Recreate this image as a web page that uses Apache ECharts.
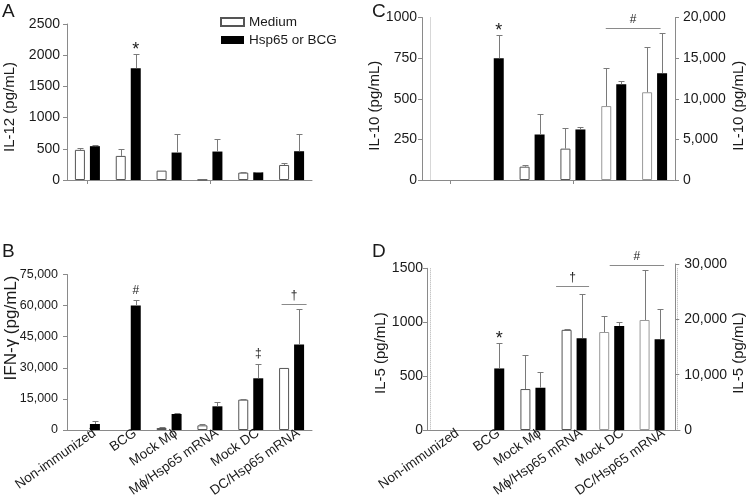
<!DOCTYPE html>
<html><head><meta charset="utf-8">
<script src="https://cdn.jsdelivr.net/npm/echarts@6/dist/echarts.min.js"></script>
<style>html,body{margin:0;padding:0;background:#fff}#c{width:747px;height:500px}</style>
</head><body><div id="c"></div>
<script>
// ---------------- data ----------------
const categories = ['Non-immunized', 'BCG', 'Mock M\u03d5', 'M\u03d5/Hsp65 mRNA', 'Mock DC', 'DC/Hsp65 mRNA'];
const seriesNames = ['Medium', 'Hsp65 or BCG'];

// Panel A: IL-12 (pg/mL)
const il12Medium   = [483, 386, 150, 4, 118, 241];
const il12MediumSD = [32, 113, 0, 0, 11, 38];
const il12Hsp      = [542, 1792, 440, 456, 123, 461];
const il12HspSD    = [21, 225, 295, 204, 6, 279];
const il12Ticks    = [0, 500, 1000, 1500, 2000, 2500];

// Panel B: IFN-gamma (pg/mL)
const ifnMedium   = [0, 0, 965, 2250, 14640, 29930];
const ifnMediumSD = [0, 0, 325, 810, 160, 0];
const ifnHsp      = [2900, 60000, 7720, 11420, 24940, 41190];
const ifnHspSD    = [1280, 2600, 320, 2080, 6920, 17380];
const ifnTicks    = [0, 15000, 30000, 45000, 60000, 75000];

// Panel C: IL-10 (pg/mL) - first four groups on left axis, last two on right axis
const il10Medium   = [0, 0, 82, 193, 9100, 10800];
const il10MediumSD = [0, 0, 11, 130, 4650, 5570];
const il10Hsp      = [0, 749, 280, 311, 11780, 13150];
const il10HspSD    = [0, 142, 125, 16, 370, 4900];
const il10LeftTicks  = [0, 250, 500, 750, 1000];
const il10RightTicks = [0, 5000, 10000, 15000, 20000];

// Panel D: IL-5 (pg/mL)
const il5Medium   = [0, 0, 380, 929, 17710, 19880];
const il5MediumSD = [0, 0, 314, 6, 2830, 9100];
const il5Hsp      = [0, 571, 392, 852, 18800, 16390];
const il5HspSD    = [0, 237, 142, 413, 660, 5420];
const il5LeftTicks  = [0, 500, 1000, 1500];
const il5RightTicks = [0, 10000, 20000, 30000];

const leftGroups  = [0, 1, 2, 3];
const rightGroups = [4, 5];
const allGroups   = [0, 1, 2, 3, 4, 5];

// significance marks: [group, series (0 = Medium, 1 = Hsp65 or BCG), symbol]
const marksA = [[1, 1, '*']];
const marksB = [[1, 1, '#'], [4, 1, '\u2021']];
const marksC = [[1, 1, '*']];
const marksD = [[1, 1, '*']];
// brackets: [fromGroup, toGroup, value, symbol]
const bracketsB      = [[5, 5, 60700, '\u2020']];
const bracketsCRight = [[4, 5, 18700, '#']];
const bracketsDLeft  = [[3, 3, 1340, '\u2020']];
const bracketsDRight = [[4, 5, 29800, '#']];

// ---------------- style / layout ----------------
const FONT = "'Liberation Sans', Arial, Helvetica, sans-serif";
const TXT = '#1a1a1a';
const AX = '#8a8a8a';
const ERR = '#7a7a7a';
const BAR_W = 10, BAR_OFF = 7.5;
const bracketPads = { B: [[10, 15]], C: [[8, 6]], DL: [[18, 15]], DR: [[2, 12]] };

const comma = v => String(v).replace(/\B(?=(\d{3})+(?!\d))/g, ',');
const plain = v => String(v);
const pick = (arr, groups) => arr.map((v, i) => (groups.includes(i) && v !== 0) ? v : '-');

function barPair(xi, yi, med, hsp, groups, borderCol) {
  return [
    { name: seriesNames[0], type: 'bar', xAxisIndex: xi, yAxisIndex: yi, barWidth: BAR_W, barGap: '50%',
      itemStyle: { color: '#ffffff', borderColor: borderCol, borderWidth: 1 }, data: pick(med, groups) },
    { name: seriesNames[1], type: 'bar', xAxisIndex: xi, yAxisIndex: yi, barWidth: BAR_W, barGap: '50%',
      itemStyle: { color: '#000000', borderColor: '#000000', borderWidth: 0 }, data: pick(hsp, groups) }
  ];
}

function errSeries(xi, yi, means, sds, side, groups) {
  const data = [];
  groups.forEach(i => { if (sds[i] > 0) data.push([i, means[i], means[i] + sds[i]]); });
  return {
    type: 'custom', xAxisIndex: xi, yAxisIndex: yi, z: 5, silent: true, clip: false,
    encode: { x: 0, y: [1, 2] },
    renderItem: (params, api) => {
      const b = api.coord([api.value(0), api.value(1)]);
      const t = api.coord([api.value(0), api.value(2)]);
      const x = Math.round(b[0] + side * BAR_OFF) + 0.5;
      const y = Math.round(t[1]) + 0.5;
      return { type: 'group', children: [
        { type: 'line', shape: { x1: x, y1: b[1], x2: x, y2: y }, style: { stroke: ERR, lineWidth: 1 } },
        { type: 'line', shape: { x1: x - 3, y1: y, x2: x + 3, y2: y }, style: { stroke: ERR, lineWidth: 1 } }
      ] };
    },
    data
  };
}

function markSeries(xi, yi, marks, med, medSD, hsp, hspSD) {
  const data = marks.map(m => {
    const v = m[1] === 0 ? med[m[0]] + medSD[m[0]] : hsp[m[0]] + hspSD[m[0]];
    return [m[0], v, m[1]];
  });
  return {
    type: 'custom', xAxisIndex: xi, yAxisIndex: yi, z: 6, silent: true, clip: false,
    encode: { x: 0, y: 1 },
    renderItem: (params, api) => {
      const p = api.coord([api.value(0), api.value(1)]);
      const side = api.value(2) === 0 ? -1 : 1;
      const sym = marks[params.dataIndex][2];
      const isStar = sym === '*';
      return { type: 'text', style: {
        x: p[0] + side * BAR_OFF, y: p[1] - (isStar ? 4 : 10), text: sym,
        fontSize: isStar ? 18 : 12, fontFamily: FONT, fill: TXT, align: 'center', verticalAlign: 'middle' } };
    },
    data
  };
}

function bracketSeries(xi, yi, brackets, pads) {
  return {
    type: 'custom', xAxisIndex: xi, yAxisIndex: yi, z: 6, silent: true, clip: false,
    encode: { x: 0, y: 2 },
    renderItem: (params, api) => {
      const i = params.dataIndex;
      const a = api.coord([api.value(0), api.value(2)]);
      const b = api.coord([api.value(1), api.value(2)]);
      const x1 = a[0] - pads[i][0], x2 = b[0] + pads[i][1];
      const y = Math.round(a[1]) + 0.5;
      return { type: 'group', children: [
        { type: 'line', shape: { x1, y1: y, x2, y2: y }, style: { stroke: AX, lineWidth: 1 } },
        { type: 'text', style: { x: (x1 + x2) / 2, y: y - 9, text: brackets[i][3], fontSize: 12,
          fontFamily: FONT, fill: TXT, align: 'center', verticalAlign: 'middle' } }
      ] };
    },
    data: brackets.map(b => [b[0], b[1], b[2]])
  };
}

const tickRange = t => ({ min: t[0], max: t[t.length - 1], interval: t[1] - t[0] });
const nameStyle = (size, pad) => ({ fontSize: size, color: TXT, fontFamily: FONT, padding: pad });

function yAx(grid, ticks, name, opts) {
  return Object.assign({
    gridIndex: grid, type: 'value', ...tickRange(ticks), name, nameLocation: 'middle',
    nameTextStyle: nameStyle(15, [0, 0, 0, 0]),
    axisLine: { show: true, lineStyle: { color: AX } },
    axisTick: { show: true, length: 4, lineStyle: { color: AX } },
    splitLine: { show: false },
    axisLabel: { fontSize: 14, color: TXT, fontFamily: FONT, margin: 7, formatter: plain }
  }, opts);
}

function xAx(grid, opts) {
  return Object.assign({
    gridIndex: grid, type: 'category', data: categories,
    axisLine: { show: true, onZero: false, lineStyle: { color: AX } },
    axisTick: { show: true, alignWithLabel: true, length: 4, lineStyle: { color: AX } },
    axisLabel: { show: false }
  }, opts);
}
// label-only category axis (labels sit slightly right of the ticks, as in the figure)
function labelX(grid) {
  return { gridIndex: grid, type: 'category', data: categories,
    axisLine: { show: false, onZero: false }, axisTick: { show: false },
    axisLabel: { show: true, rotate: 35, interval: 0, fontSize: 13.5, color: TXT, fontFamily: FONT, margin: 8 } };
}
const divider = { show: true, interval: (i) => i === 4, lineStyle: { color: '#b0b0b0', type: 'dotted', width: 1 } };
function decoX(grid) {
  return { gridIndex: grid, type: 'category', data: [''], axisLine: { show: true, onZero: false, lineStyle: { color: AX } },
    axisTick: { show: false }, axisLabel: { show: false } };
}
const hiddenY = g => ({ gridIndex: g, type: 'value', show: false });

const option = {
  animation: false,
  backgroundColor: '#ffffff',
  textStyle: { fontFamily: FONT },
  legend: {
    orient: 'vertical', left: 215, top: 10, itemWidth: 23, itemHeight: 8, itemGap: 4, icon: 'rect',
    data: seriesNames, textStyle: { fontSize: 13.5, color: TXT, fontFamily: FONT }
  },
  graphic: [
    { type: 'text', left: 2, top: 2, style: { text: 'A', fontSize: 19, fontFamily: FONT, fill: TXT } },
    { type: 'text', left: 2, top: 242, style: { text: 'B', fontSize: 19, fontFamily: FONT, fill: TXT } },
    { type: 'text', left: 372, top: 2, style: { text: 'C', fontSize: 19, fontFamily: FONT, fill: TXT } },
    { type: 'text', left: 372, top: 242, style: { text: 'D', fontSize: 19, fontFamily: FONT, fill: TXT } },
    // panel B axis title sits above the axis middle in the figure
    { type: 'text', x: 11, y: 328, rotation: Math.PI / 2,
      style: { text: 'IFN-\u03b3 (pg/mL)', fontSize: 17, fontFamily: FONT, fill: TXT, align: 'center', verticalAlign: 'middle' } }
  ],
  grid: [
    { left: 67, top: 24, width: 245, height: 156 },        // 0 A
    { left: 67, top: 274.5, width: 245, height: 155.5 },   // 1 B
    { left: 430, top: 17.5, width: 245, height: 162.5 },   // 2 C left
    { left: 430, top: 17.5, width: 245, height: 162.5 },   // 3 C right
    { left: 422, top: 17.5, width: 252.5, height: 162.5 }, // 4 C axis line
    { left: 430, top: 268.3, width: 247, height: 161.7 },  // 5 D left
    { left: 430, top: 264, width: 247, height: 166 },      // 6 D right
    { left: 427, top: 268.3, width: 253, height: 161.7 },  // 7 D axis line
    { left: 74, top: 274.5, width: 245, height: 155.5 },   // 8 B labels
    { left: 437, top: 268.3, width: 247, height: 161.7 }   // 9 D labels
  ],
  xAxis: [
    xAx(0),
    xAx(1),
    xAx(2, { axisLine: { show: false }, splitLine: divider }),
    xAx(3, { show: false }),
    decoX(4),
    xAx(5, { axisLine: { show: false }, splitLine: divider }),
    xAx(6, { show: false }),
    decoX(7),
    labelX(8),
    labelX(9)
  ],
  yAxis: [
    yAx(0, il12Ticks, 'IL-12 (pg/mL)', { nameGap: 50, nameTextStyle: nameStyle(15, [0, 10, 0, 0]) }),
    yAx(1, ifnTicks, '', {
      axisLabel: { fontSize: 12.5, color: TXT, fontFamily: FONT, margin: 9, formatter: comma } }),
    yAx(2, il10LeftTicks, 'IL-10 (pg/mL)', { offset: 8, nameGap: 34, nameTextStyle: nameStyle(15, [0, 14, 0, 0]),
      axisLabel: { fontSize: 14, color: TXT, fontFamily: FONT, margin: 5, formatter: plain } }),
    yAx(3, il10RightTicks, 'IL-10 (pg/mL)', { position: 'right', nameGap: 56, nameTextStyle: nameStyle(15, [0, 14, 0, 0]),
      axisLabel: { fontSize: 14, color: TXT, fontFamily: FONT, margin: 8, formatter: comma } }),
    hiddenY(4),
    yAx(5, il5LeftTicks, 'IL-5 (pg/mL)', { offset: 3, nameGap: 38, nameTextStyle: nameStyle(15, [0, 8, 0, 0]),
      axisLabel: { fontSize: 14, color: TXT, fontFamily: FONT, margin: 4, formatter: plain } }),
    yAx(6, il5RightTicks, 'IL-5 (pg/mL)', { position: 'right', offset: 3, nameGap: 52, nameTextStyle: nameStyle(15, [0, 12, 0, 0]),
      axisLabel: { fontSize: 14, color: TXT, fontFamily: FONT, margin: 9, formatter: comma } }),
    hiddenY(7),
    hiddenY(8),
    hiddenY(9)
  ],
  series: [
    // A
    ...barPair(0, 0, il12Medium, il12Hsp, allGroups, '#555'),
    errSeries(0, 0, il12Medium, il12MediumSD, -1, allGroups),
    errSeries(0, 0, il12Hsp, il12HspSD, 1, allGroups),
    markSeries(0, 0, marksA, il12Medium, il12MediumSD, il12Hsp, il12HspSD),
    // B
    ...barPair(1, 1, ifnMedium, ifnHsp, allGroups, '#555'),
    errSeries(1, 1, ifnMedium, ifnMediumSD, -1, allGroups),
    errSeries(1, 1, ifnHsp, ifnHspSD, 1, allGroups),
    markSeries(1, 1, marksB, ifnMedium, ifnMediumSD, ifnHsp, ifnHspSD),
    bracketSeries(1, 1, bracketsB, bracketPads.B),
    // C left
    ...barPair(2, 2, il10Medium, il10Hsp, leftGroups, '#555'),
    errSeries(2, 2, il10Medium, il10MediumSD, -1, leftGroups),
    errSeries(2, 2, il10Hsp, il10HspSD, 1, leftGroups),
    markSeries(2, 2, marksC, il10Medium, il10MediumSD, il10Hsp, il10HspSD),
    // C right
    ...barPair(3, 3, il10Medium, il10Hsp, rightGroups, '#999'),
    errSeries(3, 3, il10Medium, il10MediumSD, -1, rightGroups),
    errSeries(3, 3, il10Hsp, il10HspSD, 1, rightGroups),
    bracketSeries(3, 3, bracketsCRight, bracketPads.C),
    // D left
    ...barPair(5, 5, il5Medium, il5Hsp, leftGroups, '#555'),
    errSeries(5, 5, il5Medium, il5MediumSD, -1, leftGroups),
    errSeries(5, 5, il5Hsp, il5HspSD, 1, leftGroups),
    markSeries(5, 5, marksD, il5Medium, il5MediumSD, il5Hsp, il5HspSD),
    bracketSeries(5, 5, bracketsDLeft, bracketPads.DL),
    // D right
    ...barPair(6, 6, il5Medium, il5Hsp, rightGroups, '#999'),
    errSeries(6, 6, il5Medium, il5MediumSD, -1, rightGroups),
    errSeries(6, 6, il5Hsp, il5HspSD, 1, rightGroups),
    bracketSeries(6, 6, bracketsDRight, bracketPads.DR)
  ]
};

const chart = echarts.init(document.getElementById('c'), null, { renderer: 'canvas' });
chart.setOption(option);
</script>
</body></html>
